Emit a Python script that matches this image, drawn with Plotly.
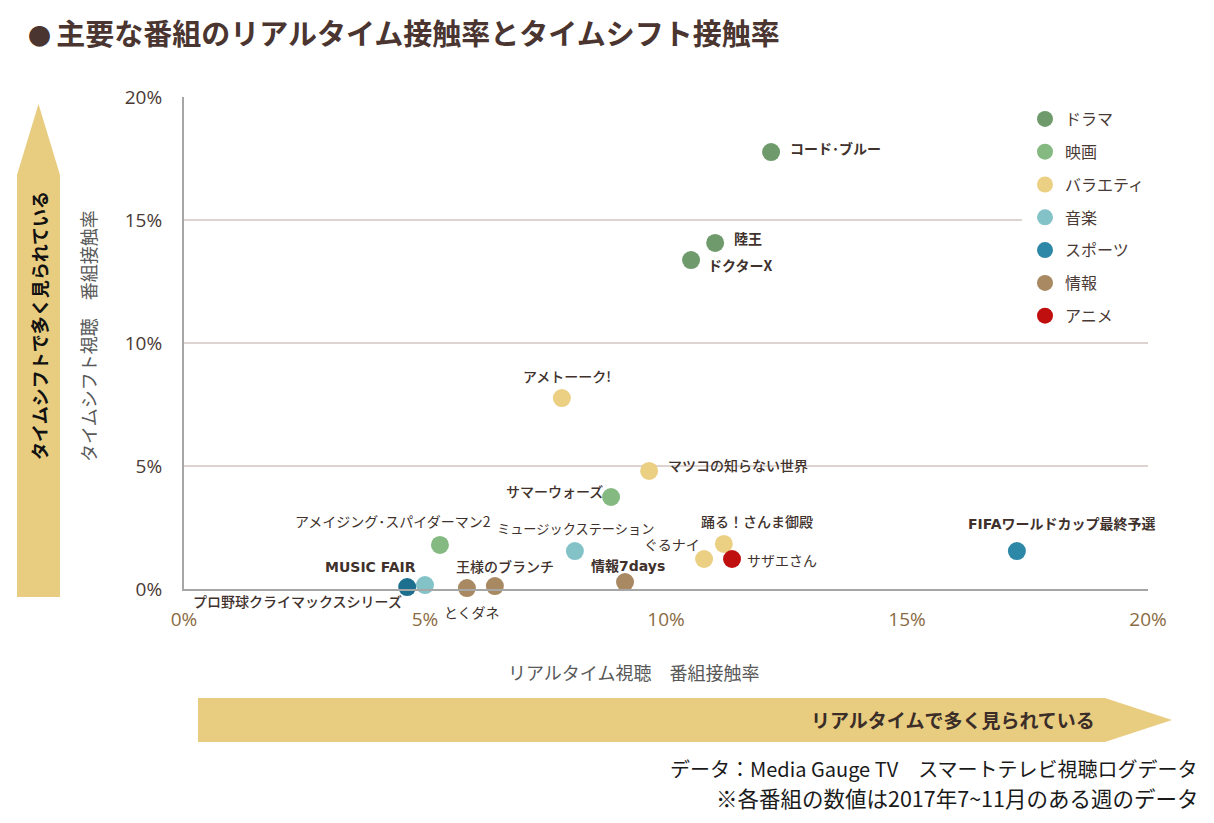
import plotly.graph_objects as go

# ---------------- data ----------------
genres = ["ドラマ", "映画", "バラエティ", "音楽", "スポーツ", "情報", "アニメ"]
genre_colors = ["#6f9a6b", "#84b981", "#ebcf83", "#83c3c8", "#2d87a7", "#a88962", "#c00f0f"]

programs = ["コード･ブルー", "陸王", "ドクターX", "アメトーーク!", "マツコの知らない世界",
            "サマーウォーズ", "アメイジング･スパイダーマン2", "ミュージックステーション",
            "踊る！さんま御殿", "ぐるナイ", "サザエさん", "FIFAワールドカップ最終予選",
            "情報7days", "王様のブランチ", "とくダネ", "MUSIC FAIR", "プロ野球クライマックスシリーズ"]
program_genre = ["ドラマ", "ドラマ", "ドラマ", "バラエティ", "バラエティ",
                 "映画", "映画", "音楽",
                 "バラエティ", "バラエティ", "アニメ", "スポーツ",
                 "情報", "情報", "情報", "音楽", "スポーツ"]
realtime = [12.18, 11.02, 10.52, 7.84, 9.65, 8.86, 5.31, 8.11, 11.20, 10.79, 11.37, 17.28,
            9.15, 6.45, 5.87, 5.00, 4.63]
timeshift = [17.76, 14.07, 13.37, 7.76, 4.80, 3.74, 1.79, 1.54, 1.83, 1.22, 1.22, 1.54,
             0.28, 0.12, 0.04, 0.16, 0.08]

tick_vals = [0, 5, 10, 15, 20]
tick_text = ["0%", "5%", "10%", "15%", "20%"]

# ---------------- styles ----------------
W, H = 1214, 823
L, R, T, B = 184, 66, 97, 234
PW, PH = W - L - R, H - T - B

def px2x(px):
    return (px - L) / PW

def py2y(py):
    return (H - B - py) / PH

FONT = "Noto Sans CJK JP"
WIDE = "DejaVu Sans, Noto Sans CJK JP"
TXT = "#40312c"

# label offsets (pixels relative to marker), anchor, weight, font family
label_style = {
    "コード･ブルー": (17, 4, "left", 700, FONT),
    "陸王": (17, 5, "left", 700, FONT),
    "ドクターX": (15, -5, "left", 700, FONT),
    "アメトーーク!": (5, 22, "center", 500, FONT),
    "マツコの知らない世界": (17, 6, "left", 500, FONT),
    "サマーウォーズ": (-6, 6, "right", 500, FONT),
    "アメイジング･スパイダーマン2": (-47, 24, "center", 400, FONT),
    "ミュージックステーション": (1, 23, "center", 400, FONT),
    "踊る！さんま御殿": (33, 23, "center", 500, FONT),
    "ぐるナイ": (-2, 15, "right", 400, FONT),
    "サザエさん": (13, -1, "left", 400, FONT),
    "FIFAワールドカップ最終予選": (45, 27, "center", 700, WIDE),
    "情報7days": (3, 16, "center", 700, WIDE),
    "王様のブランチ": (10, 20, "center", 500, FONT),
    "とくダネ": (5, -24, "center", 400, FONT),
    "MUSIC FAIR": (-55, 18, "center", 700, WIDE),
    "プロ野球クライマックスシリーズ": (-110, -14, "center", 500, FONT),
}
label_size = {"ミュージックステーション": 13.2}
point_color_override = {"プロ野球クライマックスシリーズ": "#1d6f8f"}

fig = go.Figure()

for g, c in zip(genres, genre_colors):
    idx = [i for i, pg in enumerate(program_genre) if pg == g]
    fig.add_trace(go.Scatter(
        x=[realtime[i] for i in idx],
        y=[timeshift[i] for i in idx],
        mode="markers",
        name=g,
        legendgroup=g,
        marker=dict(size=18, color=[point_color_override.get(programs[i], c) for i in idx],
                    line=dict(width=0)),
        cliponaxis=False,
        hovertext=[programs[i] for i in idx],
    ))

annotations = []
for name, xv, yv in zip(programs, realtime, timeshift):
    dx, dy, anc, wt, fam = label_style[name]
    annotations.append(dict(
        x=xv, y=yv, xref="x", yref="y", text=name, showarrow=False,
        xanchor=anc, yanchor="middle", xshift=dx, yshift=dy,
        font=dict(family=fam, size=label_size.get(name, 14), color=TXT, weight=wt),
    ))

# title
annotations.append(dict(
    x=px2x(26), y=py2y(32), xref="paper", yref="paper", xanchor="left", yanchor="middle",
    text="<span style='font-size:23px'>● </span>主要な番組のリアルタイム接触率とタイムシフト接触率",
    showarrow=False,
    font=dict(family=FONT, size=29, color="#4a3530", weight=700)))
# axis titles
annotations.append(dict(
    x=px2x(633), y=py2y(672), xref="paper", yref="paper", xanchor="center", yanchor="middle",
    text="リアルタイム視聴　番組接触率", showarrow=False,
    font=dict(family=FONT, size=18, color="#595959")))
annotations.append(dict(
    x=px2x(88), y=py2y(336), xref="paper", yref="paper", xanchor="center", yanchor="middle",
    text="タイムシフト視聴　番組接触率", showarrow=False, textangle=-90,
    font=dict(family=FONT, size=18, color="#595959")))
# arrow texts
annotations.append(dict(
    x=px2x(39), y=py2y(326), xref="paper", yref="paper", xanchor="center", yanchor="middle",
    text="タイムシフトで多く見られている", showarrow=False, textangle=-90,
    font=dict(family=FONT, size=18, color="#111111", weight=700)))
annotations.append(dict(
    x=px2x(1097), y=py2y(719), xref="paper", yref="paper", xanchor="right", yanchor="middle",
    text="リアルタイムで多く見られている", showarrow=False,
    font=dict(family=FONT, size=19, color="#3b2d28", weight=700)))
# footer
annotations.append(dict(
    x=px2x(1200), y=py2y(768), xref="paper", yref="paper", xanchor="right", yanchor="middle",
    text="データ：Media Gauge TV　スマートテレビ視聴ログデータ", showarrow=False,
    font=dict(family=FONT, size=20, color="#1a1a1a")))
annotations.append(dict(
    x=px2x(1200), y=py2y(797), xref="paper", yref="paper", xanchor="right", yanchor="middle",
    text="※各番組の数値は2017年7~11月のある週のデータ", showarrow=False,
    font=dict(family=FONT, size=21.5, color="#1a1a1a")))

ARROW = "#e8cc80"
def path(points):
    return "M " + " L ".join(f"{px2x(a):.5f},{py2y(b):.5f}" for a, b in points) + " Z"

shapes = [
    dict(type="path", xref="paper", yref="paper", layer="below", line=dict(width=0),
         fillcolor=ARROW,
         path=path([(17, 597), (17, 175), (38.5, 104), (60, 175), (60, 597)])),
    dict(type="path", xref="paper", yref="paper", layer="below", line=dict(width=0),
         fillcolor=ARROW,
         path=path([(198, 698), (1105, 698), (1172, 720), (1105, 742), (198, 742)])),
]

fig.update_layout(
    width=W, height=H,
    margin=dict(l=L, r=R, t=T, b=B, autoexpand=False),
    paper_bgcolor="white", plot_bgcolor="white",
    font=dict(family=FONT, color=TXT),
    showlegend=True,
    legend=dict(x=px2x(1022), y=py2y(99), xanchor="left", yanchor="top",
                bgcolor="white", bordercolor="white", borderwidth=3,
                tracegroupgap=9, itemsizing="trace",
                font=dict(family=FONT, size=16, color="#4a3a35")),
    xaxis=dict(range=[0, 20], tickvals=tick_vals, ticktext=tick_text, showgrid=False,
               zeroline=False, showline=True, linecolor="#a6a6a6", linewidth=2,
               ticks="", ticklabelstandoff=12,
               tickfont=dict(family="Open Sans", size=19, color="#8a6b43"), fixedrange=True),
    yaxis=dict(range=[0, 20], tickvals=tick_vals, ticktext=tick_text, showgrid=True,
               gridcolor="#ddd3d0", gridwidth=2, zeroline=False, showline=True,
               linecolor="#a6a6a6", linewidth=2, ticks="", ticklabelstandoff=16,
               tickfont=dict(family="Open Sans", size=19, color="#4a3a35"), fixedrange=True),
    annotations=annotations,
    shapes=shapes,
)

fig.write_html("out.html")
